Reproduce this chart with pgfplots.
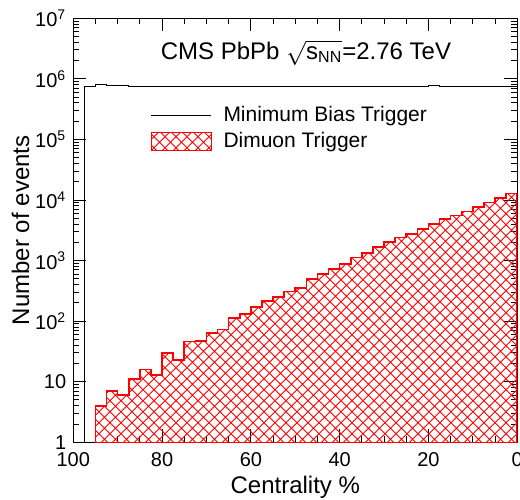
\documentclass[border=0pt]{standalone}
\usepackage{pgfplots}
\pgfplotsset{compat=1.18}
\usepackage{amsmath}
\usepackage{fontspec}
\setmainfont{Liberation Sans}
\usetikzlibrary{patterns}
\pgfdeclarepatternformonly{dcross}{\pgfqpoint{-1pt}{-1pt}}{\pgfqpoint{6.5pt}{6.5pt}}{\pgfqpoint{5.5pt}{5.5pt}}{%
  \pgfsetlinewidth{0.45pt}%
  \pgfpathmoveto{\pgfqpoint{0pt}{0pt}}\pgfpathlineto{\pgfqpoint{5.5pt}{5.5pt}}%
  \pgfpathmoveto{\pgfqpoint{0pt}{5.5pt}}\pgfpathlineto{\pgfqpoint{5.5pt}{0pt}}%
  \pgfusepath{stroke}}
\pgfplotsset{
  mbleg/.style={legend image code/.code={\draw[##1] (0pt,0pt) -- (30pt,0pt);}},
  dmleg/.style={legend image code/.code={\draw[##1] (0pt,-4.5pt) rectangle (30pt,4.5pt);}},
}
\begin{document}
\begin{tikzpicture}
\begin{axis}[
  scale only axis, width=222pt, height=212pt,
  ymode=log, ymin=1, ymax=1e7,
  xmin=0, xmax=100, x dir=reverse,
  xtick={0,20,40,60,80,100},
  minor x tick num=3,
  ytick={1,10,100,1000,10000,100000,1000000,10000000},
  yticklabels={1,10,10\textsuperscript{2},10\textsuperscript{3},10\textsuperscript{4},10\textsuperscript{5},10\textsuperscript{6},10\textsuperscript{7}},
  tick align=inside, tick pos=both,
  major tick length=6.5pt, minor tick length=3pt,
  every tick/.style={black, line width=0.5pt},
  axis line style={line width=0.65pt},
  /pgf/number format/assume math mode=true,
  tick label style={font=\fontsize{10}{12}\selectfont},
  xticklabel style={yshift=-1.5pt},
  label style={font=\fontsize{12}{14}\selectfont},
  xlabel={Centrality \%},
  xlabel style={yshift=2pt},
  ylabel={Number of events},
  ylabel style={yshift=-4pt},
  legend style={at={(axis description cs:0.173,0.803)}, anchor=north west, draw=none, fill=none, inner sep=0pt,
    font=\fontsize{10.5}{12}\selectfont, row sep=0pt,
    /tikz/every odd column/.append style={column sep=4pt}},
  legend cell align=left,
]
\addlegendimage{black, line width=0.5pt, mbleg}
\addlegendentry{Minimum Bias Trigger}
\addlegendimage{red, line width=0.5pt, pattern=dcross, pattern color=red, dmleg}
\addlegendentry{Dimuon Trigger}

\addplot[forget plot, const plot mark left, red, line width=0.8pt, pattern=dcross, pattern color=red] coordinates {
(95,1)(95,4)(92.5,7)(90,6)(87.5,11)(85,16)(82.5,13)(80,30)(77.5,23)(75,46)(72.5,47.5)
(70,64)(67.5,73)(65,114)(62.5,132)(60,170)(57.5,216)(55,249)(52.5,308)(50,350)
(47.5,500)(45,598)(42.5,723)(40,885)(37.5,1125)(35,1330)(32.5,1672)(30,2048)
(27.5,2414)(25,2744)(22.5,3360)(20,4020)(17.5,4865)(15,5585)(12.5,6500)(10,7690)
(7.5,9060)(5,10840)(2.5,12770)(0,12770)(0,1)} -- cycle;

\addplot[forget plot, const plot mark left, black, line width=0.5pt] coordinates {
(97.5,1)(97.5,7.45e5)(95,8.03e5)(92.5,7.83e5)(90,7.64e5)(87.5,7.55e5)(85,7.5e5)(82.5,7.52e5)
(80,7.48e5)(77.5,7.5e5)(75,7.47e5)(72.5,7.5e5)(70,7.45e5)(67.5,7.5e5)(65,7.48e5)(62.5,7.52e5)
(60,7.5e5)(57.5,7.47e5)(55,7.5e5)(52.5,7.55e5)(50,7.5e5)(47.5,7.48e5)(45,7.5e5)(42.5,7.52e5)
(40,7.5e5)(37.5,7.48e5)(35,7.5e5)(32.5,7.47e5)(30,7.5e5)(27.5,7.55e5)(25,7.5e5)(22.5,7.52e5)
(20,7.75e5)(17.5,7.5e5)(15,7.48e5)(12.5,7.5e5)(10,7.52e5)(7.5,7.5e5)(5,7.55e5)(2.5,7.5e5)(0,7.5e5)};

\node[anchor=base, font=\fontsize{12}{14}\selectfont] at (axis description cs:0.524,0.904)
  {CMS PbPb $\sqrt{\text{s}_{\text{NN}}}$=2.76 TeV};
\end{axis}
\pgfresetboundingbox
\path ([xshift=-36.65pt,yshift=-28.75pt]current axis.south west) rectangle ([xshift=1.35pt,yshift=9.15pt]current axis.north east);
\end{tikzpicture}
\end{document}
